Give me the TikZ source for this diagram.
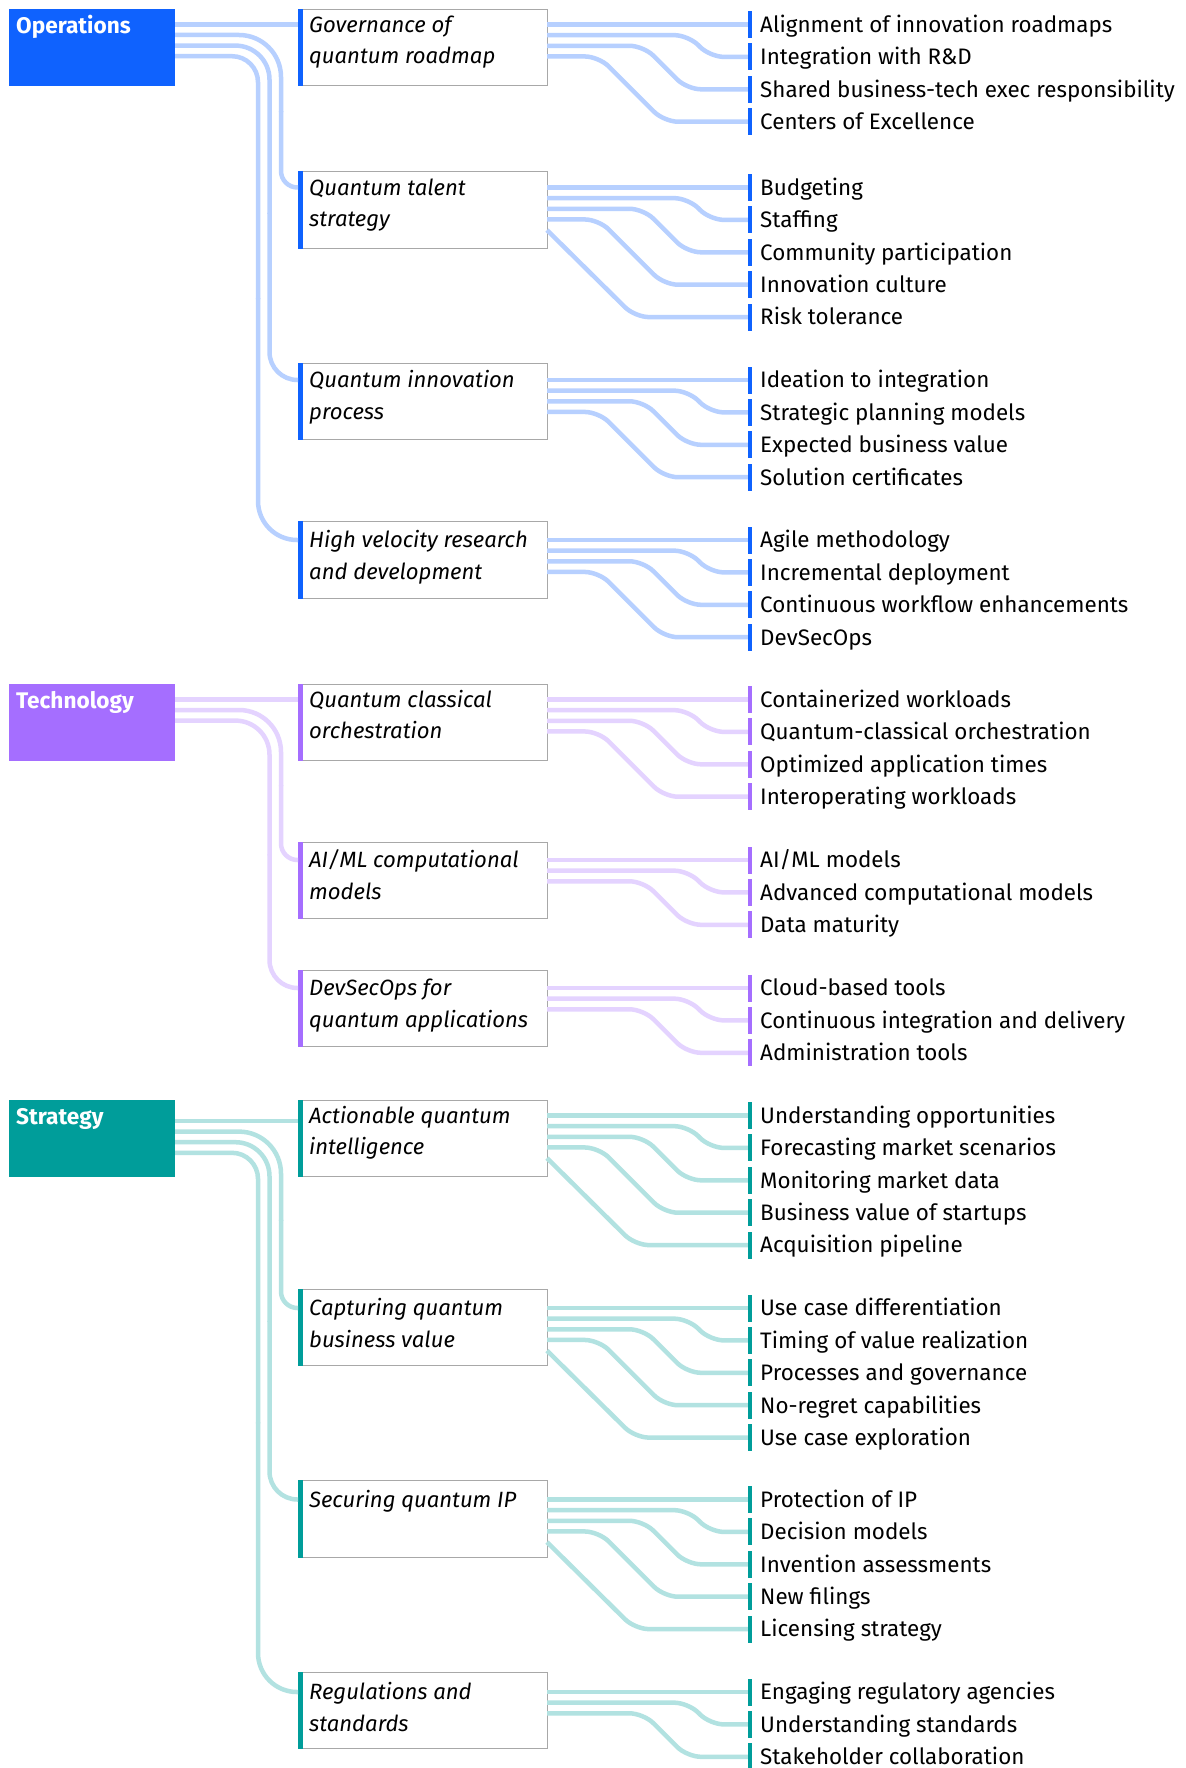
\documentclass[tikz,border=0pt]{standalone}
\usepackage{fontspec}
\setmainfont{Fira Sans}
\definecolor{opsC}{HTML}{0F62FE}
\definecolor{tecC}{HTML}{A56EFF}
\definecolor{strC}{HTML}{009D9A}
\colorlet{opsL}{opsC!30!white}
\colorlet{tecL}{tecC!30!white}
\colorlet{strL}{strC!30!white}
\definecolor{boxgray}{HTML}{A8A8A8}
\newcommand\fsz{\fontsize{22.4}{31.5}\selectfont}
\newcommand\fszi{\fontsize{22.1}{31.5}\selectfont}
\newcommand\fszb{\fontsize{22.6}{31.5}\selectfont}
\tikzset{
  catbox/.style={fill=#1, minimum width=166pt, minimum height=76.5pt, inner sep=0pt, outer sep=0pt, anchor=north west},
  catlabel/.style={text=white, font=\fszb\bfseries, inner sep=0pt, anchor=base west},
  subbox/.style={draw=boxgray, line width=1pt, fill=white, minimum width=249pt, minimum height=76.5pt, inner sep=0pt, outer sep=0pt, anchor=north west},
  subtext/.style={font=\fszi\itshape, align=left, inner sep=0pt, anchor=north west},
  leafbar/.style={fill=#1, minimum width=4.5pt, minimum height=27pt, inner sep=0pt, outer sep=0pt},
  leaftext/.style={font=\fsz, inner sep=0pt, anchor=base west},
  conn/.style={draw=#1, line width=4.5pt, line cap=butt},
}
% #1 name, #2 top, #3 first leaf y, #4 colour prefix, #5 text, #6 leaves
\newcommand\grp[6]{%
  \node[subbox] (#1) at (298,#2) {};
  \fill[#4C] ([yshift=0.5pt]#1.north west) rectangle ([xshift=5pt,yshift=-0.5pt]#1.south west);
  \node[subtext] (#1x) at (309,#3-14.5) {\strut #5};
  \foreach \lf [count=\j from 0] in {#6} {
    \pgfmathsetmacro\ys{#3+10.65*\j}
    \pgfmathsetmacro\ye{#3+32.4*\j}
    \pgfmathsetmacro\xb{733-23*\j}
    \pgfmathsetmacro\xa{\xb-(\ye-\ys)}
    \pgfmathtruncatemacro\steep{\xa<562 ? 1 : 0}
    \pgfmathsetmacro\xc{548+(\ye-\ys)}
    \node[leafbar=#4C] (#1b\j) at (750,\ye) {};
    \node[leaftext] (#1t\j) at (760,\ye+7.8) {\lf};
    \ifnum\j=0
      \draw[conn=#4L] (#1.east |- 0,\ys) -- (#1b\j.west);
    \else
      \ifnum\steep=1
        \draw[conn=#4L, rounded corners=14pt] (#1.east |- 0,\ys) -- (\xc,\ye) -- (#1b\j.west);
      \else
        \draw[conn=#4L, rounded corners=14pt] (#1.east |- 0,\ys) -- (\xa,\ys) -- (\xb,\ye) -- (#1b\j.west);
      \fi
    \fi
  }
}
% #1 cat, #2 y at cat, #3 vertical x, #4 y at sub, #5 sub, #6 top radius, #7 bottom radius, #8 colour
\newcommand\lline[8]{%
  \draw[conn=#8, rounded corners=#6] (#1.east |- 0,#2) -- (#3,#2) -- (#3,{(#2+#4)/2+1});
  \draw[conn=#8, rounded corners=#7] (#3,{(#2+#4)/2}) -- (#3,#4) -- (#5.west |- 0,#4);
}
\begin{document}
\begin{tikzpicture}[x=1pt,y=-1pt]
\useasboundingbox[fill=white] (0,0) rectangle (1185,1768);
% categories
\node[catbox=opsC] (ops) at (9,9.3) {};
\node[catlabel] (opsx) at (16,33.5) {Operations};
\node[catbox=tecC] (tec) at (9,684) {};
\node[catlabel] (tecx) at (16,708) {Technology};
\node[catbox=strC] (str) at (9,1100) {};
\node[catlabel] (strx) at (16,1124) {Strategy};
% groups
\grp{g1}{9.3}{24.5}{ops}{Governance of\\quantum roadmap}{Alignment of innovation roadmaps,Integration with R\&D,Shared business-tech exec responsibility,Centers of Excellence}
\grp{g2}{171.7}{187.5}{ops}{Quantum talent\\strategy}{Budgeting,Staffing,Community participation,Innovation culture,Risk tolerance}
\grp{g3}{363}{380}{ops}{Quantum innovation\\process}{Ideation to integration,Strategic planning models,Expected business value,Solution certificates}
\grp{g4}{521.7}{540}{ops}{High velocity research\\and development}{Agile methodology,Incremental deployment,Continuous workflow enhancements,DevSecOps}
\grp{t1}{684}{699.5}{tec}{Quantum classical\\orchestration}{Containerized workloads,Quantum-classical orchestration,Optimized application times,Interoperating workloads}
\grp{t2}{842}{860}{tec}{AI/ML computational\\models}{AI/ML models,Advanced computational models,Data maturity}
\grp{t3}{970}{988}{tec}{DevSecOps for\\quantum applications}{Cloud-based tools,Continuous integration and delivery,Administration tools}
\grp{s1}{1100}{1115.5}{str}{Actionable quantum\\intelligence}{Understanding opportunities,Forecasting market scenarios,Monitoring market data,Business value of startups,Acquisition pipeline}
\grp{s2}{1289}{1308}{str}{Capturing quantum\\business value}{Use case differentiation,Timing of value realization,Processes and governance,No-regret capabilities,Use case exploration}
\grp{s3}{1480.7}{1499.5}{str}{Securing quantum IP}{Protection of IP,Decision models,Invention assessments,New filings,Licensing strategy}
\grp{s4}{1672}{1692}{str}{Regulations and\\standards}{Engaging regulatory agencies,Understanding standards,Stakeholder collaboration}
% category to sub-topic connectors
\draw[conn=opsL] (ops.east |- 0,24.3) -- (g1.west |- 0,24.3);
\lline{ops}{35}{281}{187.5}{g2}{42pt}{16.5pt}{opsL}
\lline{ops}{45.6}{269.5}{380}{g3}{34pt}{28pt}{opsL}
\lline{ops}{56.2}{258}{540}{g4}{26pt}{39pt}{opsL}
\draw[conn=tecL] (tec.east |- 0,699.3) -- (t1.west |- 0,699.3);
\lline{tec}{710}{281}{860}{t2}{42pt}{16.5pt}{tecL}
\lline{tec}{720.6}{269.5}{988}{t3}{34pt}{28pt}{tecL}
\draw[conn=strL] (str.east |- 0,1121) -- (s1.west |- 0,1121);
\lline{str}{1131.6}{281}{1308}{s2}{42pt}{16.5pt}{strL}
\lline{str}{1142.2}{269.5}{1499.5}{s3}{34pt}{28pt}{strL}
\lline{str}{1152.8}{258}{1692}{s4}{26pt}{39pt}{strL}
\end{tikzpicture}
\end{document}
